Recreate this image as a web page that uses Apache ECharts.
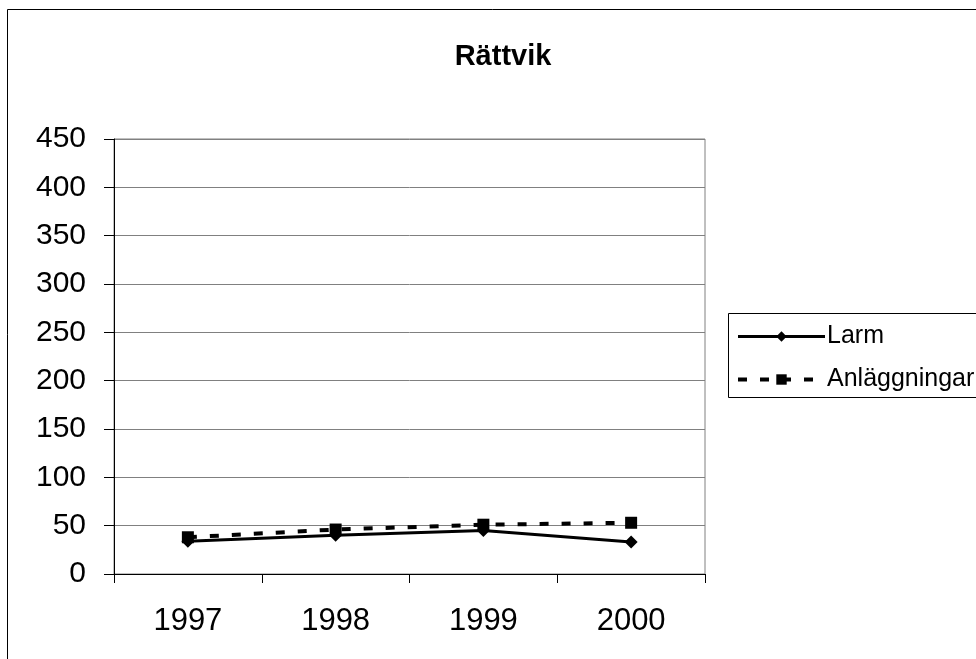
<!DOCTYPE html>
<html><head><meta charset="utf-8">
<script src="https://cdn.jsdelivr.net/npm/echarts@6/dist/echarts.min.js"></script>
<style>html,body{margin:0;padding:0;background:#fff}#c{width:976px;height:659px}</style>
</head><body><div id="c"></div>
<script>
const categories = ['1997','1998','1999','2000'];
const larm = [34, 40, 45, 33];
const anlaggningar = [38, 46, 51, 53];
const yTicks = {min: 0, max: 450, interval: 50};

const chart = echarts.init(document.getElementById('c'), null, {renderer: 'canvas'});
const font = '"Liberation Sans", Arial, Helvetica, sans-serif';
chart.setOption({
  animation: false,
  backgroundColor: '#fff',
  title: {text: 'Rättvik', left: 498, top: 37, textAlign: 'center',
    textStyle: {fontFamily: font, fontSize: 29, fontWeight: 'bold', color: '#000'}},
  grid: {left: 114, right: 271, top: 139, bottom: 85, show: true, borderColor: '#808080', borderWidth: 1},
  legend: {orient: 'vertical', left: 736, top: 324, itemWidth: 87, itemHeight: 13, itemGap: 18, padding: 0,
    textStyle: {fontFamily: font, fontSize: 25, color: '#000', padding: [0,0,0,-3]},
    data: [
      {name: 'Larm', lineStyle: {width: 3, color: '#000'}},
      {name: 'Anläggningar', lineStyle: {width: 4, color: '#000', type: [9, 13]}}
    ]},
  xAxis: {type: 'category', data: categories, boundaryGap: true,
    axisLine: {lineStyle: {color: '#000', width: 1}},
    axisTick: {show: true, length: 9, lineStyle: {color: '#000'}},
    axisLabel: {fontFamily: font, fontSize: 31, color: '#000', margin: 32},
    splitLine: {show: false}},
  yAxis: {type: 'value', min: yTicks.min, max: yTicks.max, interval: yTicks.interval,
    axisLine: {show: true, lineStyle: {color: '#000', width: 1}},
    axisTick: {show: true, length: 10, lineStyle: {color: '#000'}},
    axisLabel: {fontFamily: font, fontSize: 30, color: '#000', margin: 28},
    splitLine: {show: true, lineStyle: {color: '#808080', width: 1}}},
  series: [
    {name: 'Larm', type: 'line', data: larm, symbol: 'diamond', symbolSize: 13,
      lineStyle: {color: '#000', width: 3}, itemStyle: {color: '#000'}},
    {name: 'Anläggningar', type: 'line', data: anlaggningar, symbol: 'rect', symbolSize: 12,
      lineStyle: {color: '#000', width: 4, type: [9, 13]}, itemStyle: {color: '#000'}}
  ],
  graphic: [
    {type: 'rect', shape: {x: 7.5, y: 9.5, width: 1000, height: 700}, style: {fill: null, stroke: '#000', lineWidth: 1}, silent: true},
    {type: 'rect', shape: {x: 728.5, y: 313.5, width: 300, height: 84}, style: {fill: null, stroke: '#000', lineWidth: 1}, silent: true}
  ]
});
</script></body></html>
